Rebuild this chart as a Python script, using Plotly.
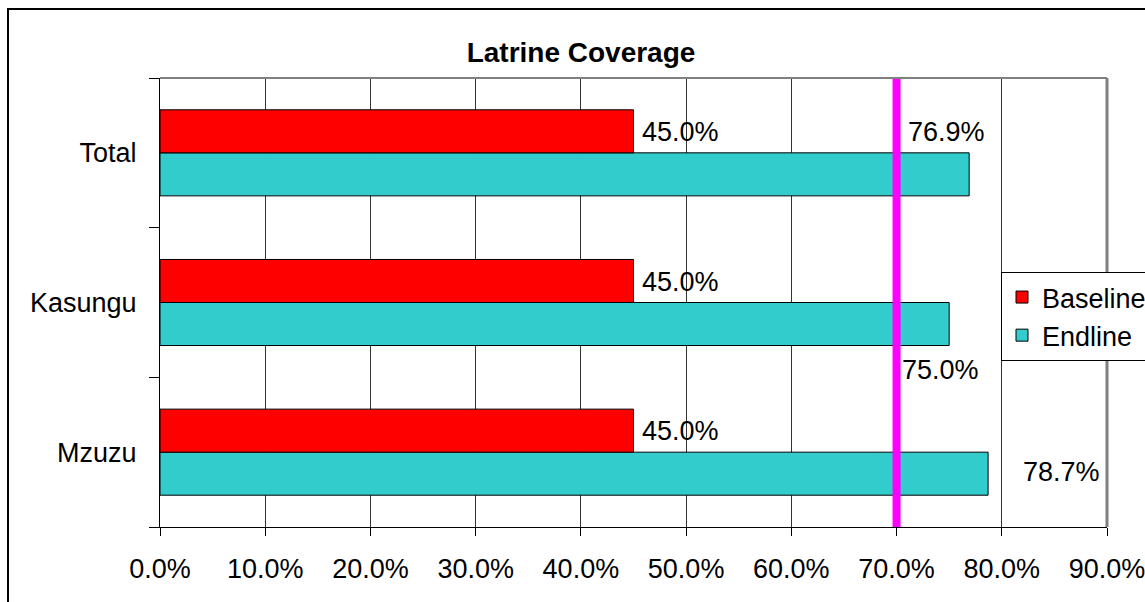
import plotly.graph_objects as go

categories = ["Mzuzu", "Kasungu", "Total"]
baseline = [45.0, 45.0, 45.0]
endline = [78.7, 75.0, 76.9]
target = 70.0
x_ticks = [0, 10, 20, 30, 40, 50, 60, 70, 80, 90]
title_text = "Latrine Coverage"

FONT = "Liberation Sans, Arial, sans-serif"
FS = 27

fig = go.Figure()
fig.add_trace(go.Bar(
    y=categories, x=endline, orientation="h", name="Endline",
    marker=dict(color="#33CCCC", line=dict(color="#000000", width=1)),
    legendrank=2,
))
fig.add_trace(go.Bar(
    y=categories, x=baseline, orientation="h", name="Baseline",
    marker=dict(color="#FF0000", line=dict(color="#000000", width=1)),
    legendrank=1,
))

# target line
fig.add_shape(type="line", xref="x", yref="paper", x0=target, x1=target, y0=0, y1=1,
              line=dict(color="#FF00FF", width=8), layer="above")

# plot area border top / right (gray)
fig.add_shape(type="line", xref="paper", yref="paper", x0=0, x1=1, y0=1, y1=1,
              line=dict(color="#808080", width=2))
fig.add_shape(type="line", xref="paper", yref="paper", x0=1, x1=1, y0=0, y1=1,
              line=dict(color="#808080", width=3))

# outer chart border
fig.add_shape(type="rect", xref="paper", yref="paper",
              x0=(8 - 160) / 947, x1=(1160 - 160) / 947,
              y0=(527 - 620) / 449, y1=(527 - 9) / 449,
              line=dict(color="#000000", width=2), layer="below")

# data labels
for cat, v in zip(categories, baseline):
    fig.add_annotation(x=v, y=cat, text=f"{v:.1f}%", showarrow=False,
                       xanchor="left", xshift=6, yshift=21,
                       font=dict(family=FONT, size=FS, color="#000000"))

end_offsets = {
    "Mzuzu": dict(xanchor="left", xshift=33, yshift=-20),
    "Kasungu": dict(xanchor="right", xshift=32, yshift=-67),
    "Total": dict(xanchor="right", xshift=18, yshift=21),
}
for cat, v in zip(categories, endline):
    fig.add_annotation(x=v, y=cat, text=f"{v:.1f}%", showarrow=False,
                       font=dict(family=FONT, size=FS, color="#000000"),
                       **end_offsets[cat])

fig.update_layout(
    width=1145, height=602,
    margin=dict(l=160, r=38, t=78, b=75, autoexpand=False),
    paper_bgcolor="#FFFFFF", plot_bgcolor="#FFFFFF",
    barmode="group", bargap=0.425, bargroupgap=0,
    font=dict(family=FONT, size=FS, color="#000000"),
    title=dict(text=f"<b>{title_text}</b>", x=(581 - 160) / 947, xref="paper",
               xanchor="center", y=1 - 52 / 602, yanchor="middle",
               font=dict(family=FONT, size=28, color="#000000")),
    legend=dict(x=(1001 - 160) / 947, y=(527 - 272) / 449, xanchor="left", yanchor="top",
                bgcolor="#FFFFFF", bordercolor="#000000", borderwidth=1,
                font=dict(family=FONT, size=FS, color="#000000"),
                traceorder="normal", tracegroupgap=0),
    showlegend=True,
)

fig.update_xaxes(
    range=[0, 90], tickvals=x_ticks, ticktext=[f"{t:.1f}%" for t in x_ticks],
    showgrid=True, gridcolor="#333333", gridwidth=1,
    showline=True, linecolor="#000000", linewidth=1,
    ticks="outside", ticklen=8, tickcolor="#000000", tickwidth=1,
    ticklabelstandoff=10, ticklabeloverflow="allow",
    zeroline=False, fixedrange=True,
    tickfont=dict(family=FONT, size=FS, color="#000000"),
)
fig.update_yaxes(
    categoryorder="array", categoryarray=categories,
    showgrid=False, showline=True, linecolor="#000000", linewidth=1,
    ticks="outside", tickson="boundaries", ticklen=10, tickcolor="#000000", tickwidth=1,
    ticklabelstandoff=17,
    tickfont=dict(family=FONT, size=FS, color="#000000"),
    fixedrange=True,
)

fig.write_html("out.html")
